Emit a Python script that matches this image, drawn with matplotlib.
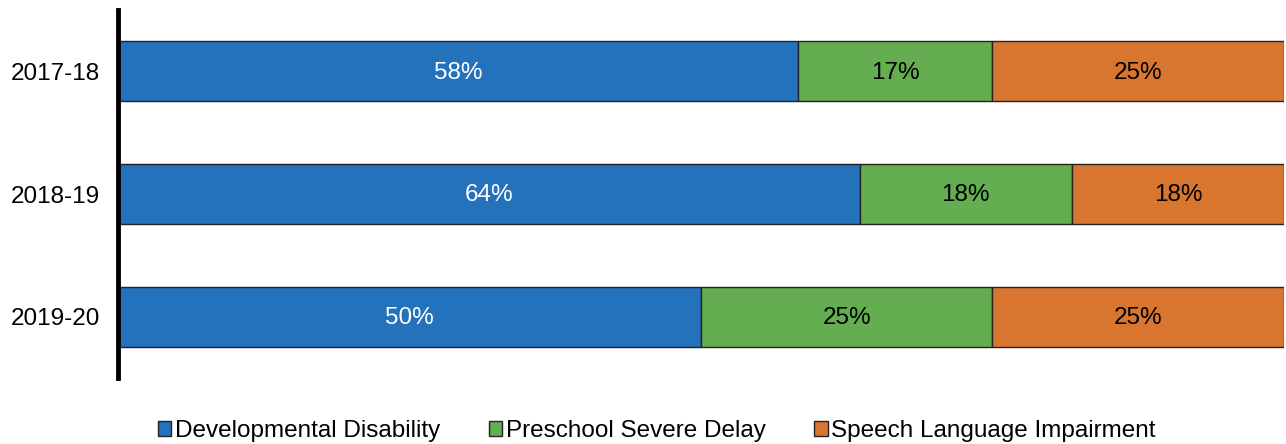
import matplotlib.pyplot as plt
import numpy as np

plt.rcParams["font.family"] = ["Liberation Sans", "DejaVu Sans"]

years = ["2017-18", "2018-19", "2019-20"]
categories = ["Developmental Disability", "Preschool Severe Delay", "Speech Language Impairment"]
dev_disability = [58.3, 63.6, 50.0]
severe_delay = [16.7, 18.2, 25.0]
speech_impairment = [25.0, 18.2, 25.0]

colors = ["#2471BC", "#64AD50", "#D8752F"]
label_colors = ["white", "black", "black"]

fig = plt.figure(figsize=(12.86, 4.44), dpi=100)
ax = fig.add_axes([118 / 1286, 1 - 378 / 444, 1166 / 1286, 368 / 444])

y = np.arange(len(years))
left = np.zeros(len(years))
for series, name, color, tcolor in zip([dev_disability, severe_delay, speech_impairment],
                                       categories, colors, label_colors):
    vals = np.array(series)
    bars = ax.barh(y, vals, left=left, height=0.49, color=color, edgecolor="#222222",
                   linewidth=1, label=name)
    for b, v in zip(bars, vals):
        ax.text(b.get_x() + b.get_width() / 2, b.get_y() + b.get_height() / 2 + 0.01,
                f"{v:.0f}%", ha="center", va="center", fontsize=17.5, color=tcolor)
    left += vals

ax.set_xlim(0, 100)
ax.set_ylim(len(years) - 0.5, -0.5)
ax.set_yticks(y)
ax.set_yticklabels(years, fontsize=17.5)
ax.tick_params(axis="y", length=0, pad=13)
ax.set_xticks([])
for side in ["top", "right", "bottom"]:
    ax.spines[side].set_visible(False)
ax.spines["left"].set_linewidth(3.5)
ax.spines["left"].set_color("black")

fig.legend(loc="center", bbox_to_anchor=(657 / 1286, 13 / 444), ncol=3, frameon=False,
           fontsize=17.5, handlelength=0.55, handleheight=0.55, handletextpad=0.15,
           columnspacing=2.0)

fig.savefig("out.png", dpi=100)
